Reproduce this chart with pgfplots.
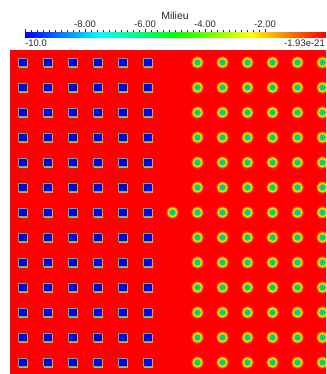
\documentclass[border=0pt]{standalone}
\usepackage{pgfplots}
\usepackage{pgfplotstable}
\pgfplotsset{compat=1.18}
\usepackage{fontspec}
\setmainfont{Liberation Sans}
\definecolor{fieldred}{RGB}{255,0,0}
\definecolor{sqblue}{RGB}{0,0,235}
\definecolor{sqgreen}{RGB}{60,200,120}
\definecolor{sqorange}{RGB}{230,170,20}
\definecolor{chalo}{RGB}{255,110,0}
\definecolor{cyellow}{RGB}{255,225,0}
\definecolor{cygreen}{RGB}{160,230,20}
\definecolor{cgreen}{RGB}{0,215,70}
\definecolor{ccyan}{RGB}{0,215,205}
\definecolor{cblue}{RGB}{0,150,230}
\definecolor{txt}{RGB}{40,40,40}
\pgfplotsset{colormap={pvrainbow}{rgb255(0cm)=(0,0,255) rgb255(1cm)=(0,255,255) rgb255(2cm)=(0,255,0) rgb255(3cm)=(255,255,0) rgb255(4cm)=(255,0,0)}}

% squares (value -10)
\pgfplotstableread{
x y
0.5 12.5
1.5 12.5
2.5 12.5
3.5 12.5
4.5 12.5
5.5 12.5
0.5 11.5
1.5 11.5
2.5 11.5
3.5 11.5
4.5 11.5
5.5 11.5
0.5 10.5
1.5 10.5
2.5 10.5
3.5 10.5
4.5 10.5
5.5 10.5
0.5 9.5
1.5 9.5
2.5 9.5
3.5 9.5
4.5 9.5
5.5 9.5
0.5 8.5
1.5 8.5
2.5 8.5
3.5 8.5
4.5 8.5
5.5 8.5
0.5 7.5
1.5 7.5
2.5 7.5
3.5 7.5
4.5 7.5
5.5 7.5
0.5 6.5
1.5 6.5
2.5 6.5
3.5 6.5
4.5 6.5
5.5 6.5
0.5 5.5
1.5 5.5
2.5 5.5
3.5 5.5
4.5 5.5
5.5 5.5
0.5 4.5
1.5 4.5
2.5 4.5
3.5 4.5
4.5 4.5
5.5 4.5
0.5 3.5
1.5 3.5
2.5 3.5
3.5 3.5
4.5 3.5
5.5 3.5
0.5 2.5
1.5 2.5
2.5 2.5
3.5 2.5
4.5 2.5
5.5 2.5
0.5 1.5
1.5 1.5
2.5 1.5
3.5 1.5
4.5 1.5
5.5 1.5
0.5 0.5
1.5 0.5
2.5 0.5
3.5 0.5
4.5 0.5
5.5 0.5
}\squares

% circles
\pgfplotstableread{
x y
7.5 12.5
8.5 12.5
9.5 12.5
10.5 12.5
11.5 12.5
12.5 12.5
7.5 11.5
8.5 11.5
9.5 11.5
10.5 11.5
11.5 11.5
12.5 11.5
7.5 10.5
8.5 10.5
9.5 10.5
10.5 10.5
11.5 10.5
12.5 10.5
7.5 9.5
8.5 9.5
9.5 9.5
10.5 9.5
11.5 9.5
12.5 9.5
7.5 8.5
8.5 8.5
9.5 8.5
10.5 8.5
11.5 8.5
12.5 8.5
7.5 7.5
8.5 7.5
9.5 7.5
10.5 7.5
11.5 7.5
12.5 7.5
6.5 6.5
7.5 6.5
8.5 6.5
9.5 6.5
10.5 6.5
11.5 6.5
12.5 6.5
7.5 5.5
8.5 5.5
9.5 5.5
10.5 5.5
11.5 5.5
12.5 5.5
7.5 4.5
8.5 4.5
9.5 4.5
10.5 4.5
11.5 4.5
12.5 4.5
7.5 3.5
8.5 3.5
9.5 3.5
10.5 3.5
11.5 3.5
12.5 3.5
7.5 2.5
8.5 2.5
9.5 2.5
10.5 2.5
11.5 2.5
12.5 2.5
7.5 1.5
8.5 1.5
9.5 1.5
10.5 1.5
11.5 1.5
12.5 1.5
7.5 0.5
8.5 0.5
9.5 0.5
10.5 0.5
11.5 0.5
12.5 0.5
}\circles

\begin{document}
\begin{tikzpicture}[x=1pt,y=1pt]
\useasboundingbox (0,0) rectangle (326,374);
\clip (0,0) rectangle (326,374);
\fill[white] (0,0) rectangle (326,374);

% field
\begin{axis}[
  at={(10pt,-1pt)}, anchor=south west, scale only axis,
  width=325pt, height=325pt,
  xmin=0, xmax=13, ymin=0, ymax=13,
  axis lines=none, ticks=none, clip=true,
]
\addplot[fill=fieldred, draw=none] coordinates {(0,13) (13,13)} \closedcycle;
% squares
\addplot[only marks, color=sqorange, mark=square*, mark size=4.1pt, mark options={sqorange, line width=0.2pt, xshift=0.5pt, yshift=-0.5pt}] table {\squares};
\addplot[only marks, color=sqgreen, mark=square*, mark size=3.9pt, mark options={sqgreen, line width=0.2pt, xshift=-0.4pt, yshift=0.4pt}] table {\squares};
\addplot[only marks, color=sqblue, mark=square*, mark size=3.1pt, mark options={sqblue, line width=0.2pt}] table {\squares};
% circles
\addplot[only marks, color=chalo, mark=*, mark size=6pt, mark options={chalo, line width=0.2pt, opacity=0.6}] table {\circles};
\addplot[only marks, color=cyellow, mark=*, mark size=4.9pt, mark options={cyellow, line width=0.2pt}] table {\circles};
\addplot[only marks, color=cygreen, mark=*, mark size=3.8pt, mark options={cygreen, line width=0.2pt}] table {\circles};
\addplot[only marks, color=cgreen, mark=*, mark size=2.9pt, mark options={cgreen, line width=0.2pt}] table {\circles};
\addplot[only marks, color=ccyan, mark=*, mark size=1.9pt, mark options={ccyan, line width=0.2pt}] table {\circles};
\addplot[only marks, color=cblue, mark=*, mark size=0.8pt, mark options={cblue, line width=0.2pt}] table {\circles};
\end{axis}

% colour bar
\begin{axis}[
  at={(25pt,336.3pt)}, anchor=south west, scale only axis,
  width=300pt, height=5.7pt,
  xmin=-10, xmax=0, ymin=0, ymax=1,
  colormap name=pvrainbow, point meta min=-10, point meta max=0,
  axis x line*=top, axis y line=none,
  axis line style={draw=none},
  xtick={-10,-8,-6,-4,-2}, xticklabels={,-8.00,-6.00,-4.00,-2.00},
  minor x tick num=9,
  tick align=outside, major tick length=3pt, minor tick length=1.6pt,
  every tick/.style={txt, line width=0.5pt},
  xticklabel style={font=\fontsize{9.5}{10}\selectfont, text=txt, inner sep=0pt, yshift=1pt},
  clip=false,
]
\addplot[surf, shader=interp, point meta=x, mesh/rows=2] coordinates {(-10,0) (-5,0) (0,0) (-10,1) (-5,1) (0,1)};
\node[anchor=north west, inner sep=0pt, font=\fontsize{9.5}{10}\selectfont, text=txt] at (axis cs:-10,0) [yshift=-2pt] {-10.0};
\node[anchor=north east, inner sep=0pt, font=\fontsize{9.5}{10}\selectfont, text=txt] at (axis cs:0,0) [yshift=-2pt] {-1.93e-21};
\node[anchor=base, inner sep=0pt, font=\fontsize{10.5}{11}\selectfont, text=txt] at (axis cs:-5,1) [yshift=12pt] {Milieu};
\end{axis}
\end{tikzpicture}
\end{document}
